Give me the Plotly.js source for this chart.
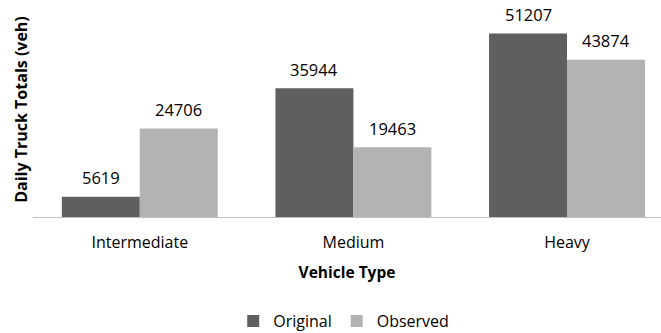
<!DOCTYPE html>
<html><head><meta charset="utf-8">
<script src="https://cdn.plot.ly/plotly-3.0.1.min.js"></script>
<style>body{margin:0;padding:0;background:#fff}#c{width:661px;height:333px}</style>
</head><body><div id="c"></div>
<script>
var categories = ["Intermediate", "Medium", "Heavy"];
var original = [5619, 35944, 51207];
var observed = [24706, 19463, 43874];
var seriesNames = ["Original", "Observed"];
var F = "Open Sans, Noto Sans, sans-serif";
var traces = [
  {type:"bar", name:seriesNames[0], x:categories, y:original, marker:{color:"#5f5f5f"}},
  {type:"bar", name:seriesNames[1], x:categories, y:observed, marker:{color:"#b3b3b3"}}
];
var annotations = [];
[original, observed].forEach(function(vals, s){
  vals.forEach(function(v, i){
    annotations.push({x:categories[i], y:v, xref:"x", yref:"y", text:String(v), showarrow:false,
      xshift:(s===0?-39:39), yshift:19, yanchor:"middle", font:{family:F,size:16.5,color:"#000"}});
  });
});
var layout = {
  width:661, height:333,
  margin:{l:33, r:0, t:2, b:116},
  paper_bgcolor:"#fff", plot_bgcolor:"#fff",
  barmode:"group", bargap:0.27, bargroupgap:0,
  font:{family:F, size:16, color:"#000"},
  showlegend:true,
  annotations:annotations,
  legend:{orientation:"h", x:0.52, xanchor:"center", xref:"container", y:0.036, yref:"container", yanchor:"middle",
          font:{family:F,size:16}, traceorder:"normal", itemwidth:30},
  xaxis:{range:[-0.5, 2.44], showline:true, linecolor:"#bfbfbf", linewidth:1, ticks:"", showgrid:false,
         tickfont:{family:F,size:16}, automargin:false, ticklabelstandoff:11,
         title:{text:"<b>Vehicle Type</b>", font:{family:F,size:15.5}, standoff:14}},
  yaxis:{range:[0, 60000], showline:false, showgrid:false, zeroline:false, showticklabels:false, ticks:"", automargin:false,
         title:{text:"<b>Daily Truck Totals (veh)</b>", font:{family:F,size:16}, standoff:0}}
};
Plotly.newPlot("c", traces, layout, {displayModeBar:false, staticPlot:true});
</script></body></html>
